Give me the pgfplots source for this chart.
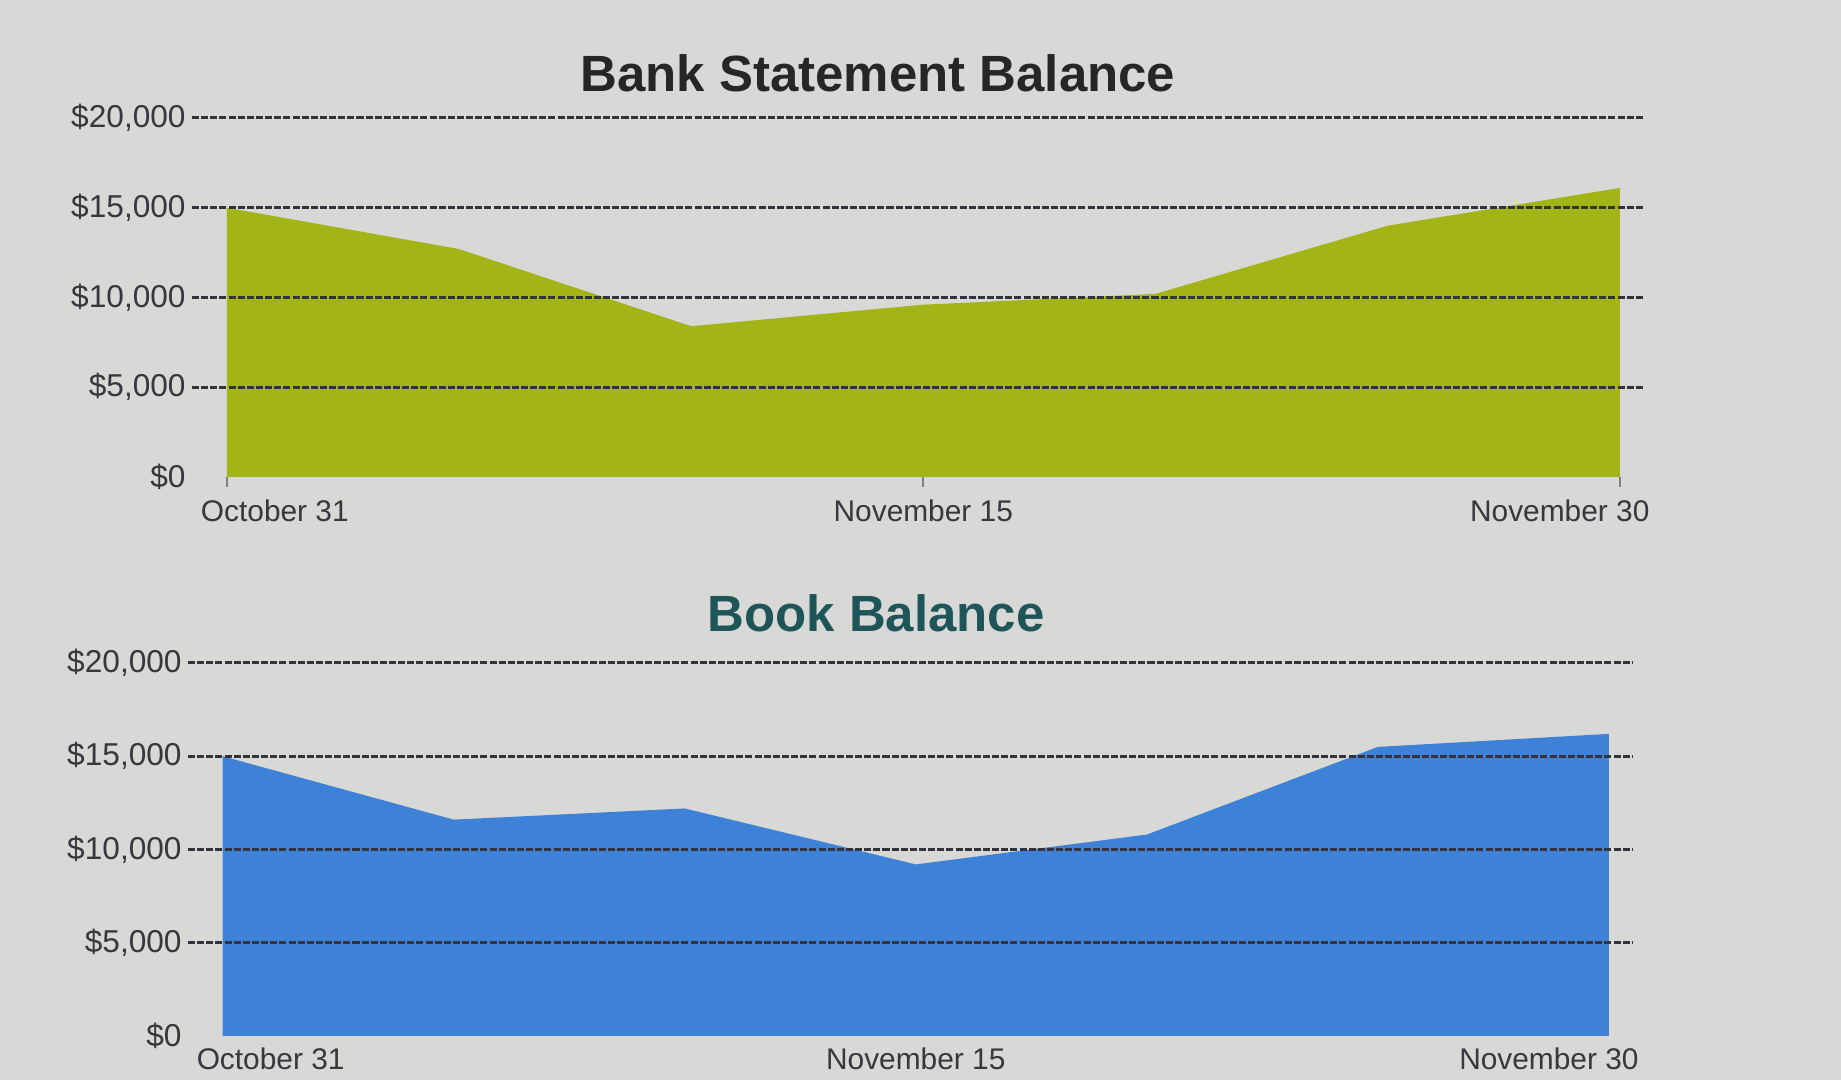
\documentclass[border=0pt]{standalone}
\usepackage{fontspec}
\setmainfont{Liberation Sans}
\usepackage{pgfplots}
\pgfplotsset{compat=1.18}

\definecolor{bg}{RGB}{216,216,214}
\definecolor{bankgreen}{RGB}{163,180,22}
\definecolor{bookblue}{RGB}{61,130,214}
\definecolor{booktitle}{RGB}{30,85,88}
\definecolor{ticktext}{RGB}{55,55,62}
\definecolor{gridc}{RGB}{50,50,60}

\pgfplotsset{
  balance/.style={
    scale only axis,
    xmin=-0.15, xmax=6.1, ymin=0, ymax=20000,
    axis on top,
    axis line style={draw=none},
    scaled y ticks=false,
    ytick={5000,10000,15000,20000},
    yticklabels={{\$5,000},{\$10,000},{\$15,000},{\$20,000}},
    extra y ticks={0},
    extra y tick labels={{\$0}},
    extra y tick style={grid=none},
    ymajorgrids,
    major grid style={gridc, line width=0.85pt, dash pattern=on 2pt off 0.6pt},
    ytick style={draw=none},
    xtick={0,3,6},
    xticklabels={{\hspace*{9.6mm}October 31},{November 15},{November 30\hspace*{12mm}}},
    xtick pos=bottom,
    xtick align=outside,
    major tick length=1mm,
    xtick style={gray, line width=0.6pt},
    yticklabel style={font=\fontsize{9}{10}\selectfont, text=ticktext, xshift=0.6mm},
    xticklabel style={font=\fontsize{8.5}{10}\selectfont, text=ticktext},
  }
}

\begin{document}
\begin{tikzpicture}
\useasboundingbox (0,0) rectangle (184.1mm,108mm);
\clip (0,0) rectangle (184.1mm,108mm);
\fill[bg] (0,0) rectangle (184.1mm,108mm);

% bank statement
\node[font=\fontsize{14.5}{16}\selectfont\bfseries, text=black!85] at (87.8mm,100.7mm) {Bank Statement Balance};
\begin{axis}[balance,
  at={(19.2mm,60.3mm)}, anchor=south west,
  width=145.1mm, height=35.9mm]
\addplot[fill=bankgreen, draw=none] coordinates {
(0,15000) (1,12700) (2,8400) (3,9600) (4,10200) (5,14000) (6,16100)
} \closedcycle;
\end{axis}

% book balance
\node[font=\fontsize{14.5}{16}\selectfont\bfseries, text=booktitle] at (87.6mm,46.7mm) {Book Balance};
\begin{axis}[balance,
  at={(18.8mm,4.4mm)}, anchor=south west,
  width=144.4mm, height=37.3mm,
  xtick style={draw=none},
  xticklabel style={yshift=1.1mm}]
\addplot[fill=bookblue, draw=none] coordinates {
(0,15000) (1,11600) (2,12200) (3,9200) (4,10800) (5,15500) (6,16200)
} \closedcycle;
\end{axis}
\end{tikzpicture}
\end{document}
